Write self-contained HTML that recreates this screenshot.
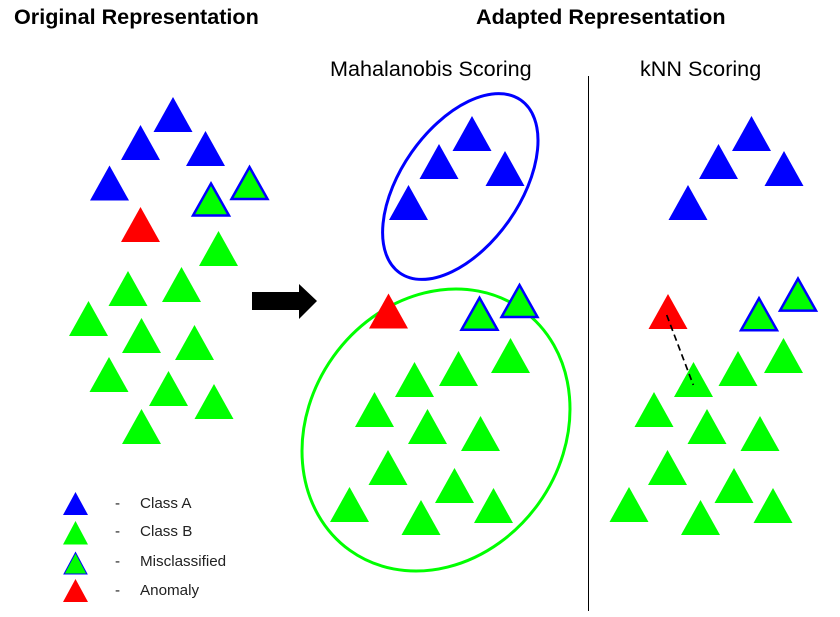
<!DOCTYPE html>
<html>
<head>
<meta charset="utf-8">
<style>
html,body{margin:0;padding:0;background:#fff}
svg{display:block}
text{font-family:"Liberation Sans",sans-serif}
</style>
</head>
<body>
<svg width="840" height="617" viewBox="0 0 840 617" xmlns="http://www.w3.org/2000/svg">
<defs>
<polygon id="t" points="0,0 19.5,35 -19.5,35"/>
<polygon id="m" points="0,0 18,32 -18,32" fill="#0f0" stroke="#00f" stroke-width="2.5"/>
</defs>
<rect width="840" height="617" fill="#fff"/>

<text x="14" y="24" font-size="21.6" font-weight="bold" fill="#000">Original Representation</text>
<text x="476" y="24" font-size="21.6" font-weight="bold" fill="#000">Adapted Representation</text>
<text x="330" y="76" font-size="21.6" fill="#000">Mahalanobis Scoring</text>
<text x="640" y="76" font-size="21.6" fill="#000">kNN Scoring</text>

<!-- left -->
<g fill="#00f">
<use href="#t" x="173" y="97"/><use href="#t" x="140.5" y="125"/><use href="#t" x="205.5" y="131"/><use href="#t" x="109.5" y="165.5"/>
</g>
<use href="#t" x="140.5" y="207" fill="#f00"/>
<use href="#m" x="211" y="183.5"/><use href="#m" x="249.5" y="167"/>
<g fill="#0f0">
<use href="#t" x="218.5" y="231"/><use href="#t" x="128" y="271"/><use href="#t" x="181.5" y="267"/>
<use href="#t" x="88.5" y="301"/><use href="#t" x="141.5" y="318"/><use href="#t" x="194.5" y="325"/>
<use href="#t" x="109" y="357"/><use href="#t" x="168.5" y="371"/><use href="#t" x="214" y="384"/>
<use href="#t" x="141.5" y="409"/>
</g>

<!-- arrow -->
<polygon points="252,292 299,292 299,284 317,301 299,319 299,310 252,310" fill="#000"/>

<!-- middle -->
<ellipse cx="460.3" cy="186.5" rx="105.5" ry="59.5" transform="rotate(-55 460.3 186.5)" fill="none" stroke="#00f" stroke-width="3"/>
<ellipse cx="436" cy="430" rx="148" ry="126.2" transform="rotate(-54.4 436 430)" fill="none" stroke="#0f0" stroke-width="3"/>
<g fill="#00f">
<use href="#t" x="472" y="116"/><use href="#t" x="439" y="144"/><use href="#t" x="505" y="151"/><use href="#t" x="408.5" y="185"/>
</g>
<use href="#t" x="388.5" y="293.5" fill="#f00"/>
<use href="#m" x="479.5" y="297.8"/><use href="#m" x="519.5" y="285"/>
<g fill="#0f0">
<use href="#t" x="510.5" y="338"/><use href="#t" x="458.5" y="351"/><use href="#t" x="414.5" y="362"/>
<use href="#t" x="374.5" y="392"/><use href="#t" x="427.5" y="409"/><use href="#t" x="480.5" y="416"/>
<use href="#t" x="388" y="450"/><use href="#t" x="454.5" y="468"/><use href="#t" x="493.5" y="488"/>
<use href="#t" x="349.5" y="487"/><use href="#t" x="421" y="500"/>
</g>

<!-- divider -->
<line x1="588.5" y1="76" x2="588.5" y2="611" stroke="#000" stroke-width="1"/>

<!-- right -->
<g fill="#00f">
<use href="#t" x="751.5" y="116"/><use href="#t" x="718.5" y="144"/><use href="#t" x="784" y="151"/><use href="#t" x="688" y="185"/>
</g>
<use href="#t" x="668" y="294" fill="#f00"/>
<use href="#m" x="759" y="298.3"/><use href="#m" x="798" y="278.6"/>
<g fill="#0f0">
<use href="#t" x="783.5" y="338"/><use href="#t" x="738" y="351"/><use href="#t" x="693.5" y="362"/>
<use href="#t" x="654" y="392"/><use href="#t" x="707" y="409"/><use href="#t" x="760" y="416"/>
<use href="#t" x="667.5" y="450"/><use href="#t" x="734" y="468"/><use href="#t" x="773" y="488"/>
<use href="#t" x="629" y="487"/><use href="#t" x="700.5" y="500"/>
</g>
<line x1="666.7" y1="315" x2="693.3" y2="385" stroke="#000" stroke-width="1.7" stroke-dasharray="6.5 4"/>

<!-- legend -->
<polygon points="75.5,492 88,515 63,515" fill="#00f"/>
<polygon points="75.5,521 88,544.5 63,544.5" fill="#0f0"/>
<polygon points="75.5,552.5 87,574 64,574" fill="#0f0" stroke="#00f" stroke-width="1"/>
<polygon points="75.5,579 88,602 63,602" fill="#f00"/>
<g font-size="15.2" fill="#222">
<text x="115" y="508">-</text><text x="140" y="508">Class A</text>
<text x="115" y="536">-</text><text x="140" y="536">Class B</text>
<text x="115" y="566">-</text><text x="140" y="566">Misclassified</text>
<text x="115" y="595">-</text><text x="140" y="595">Anomaly</text>
</g>
</svg>
</body>
</html>
